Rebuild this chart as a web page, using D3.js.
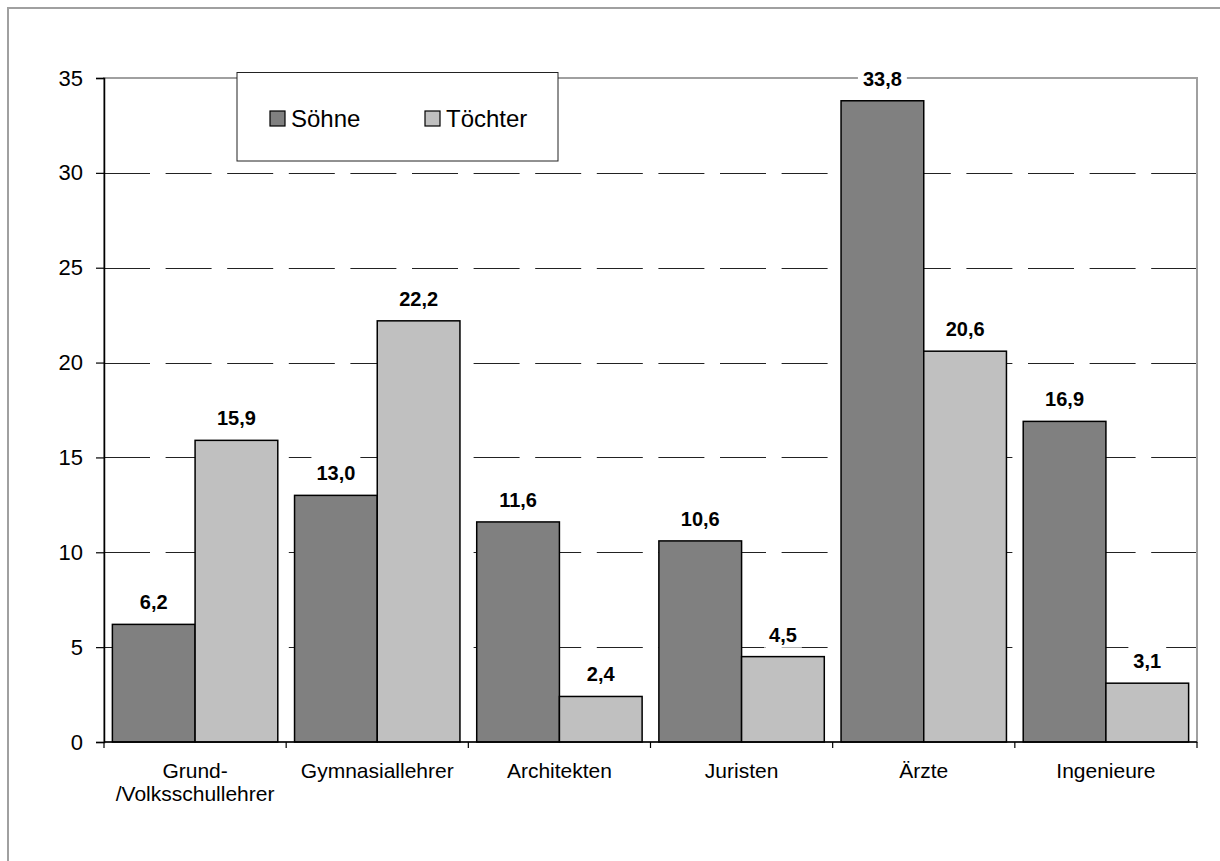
<!DOCTYPE html>
<html>
<head>
<meta charset="utf-8">
<script src="https://cdn.jsdelivr.net/npm/d3@7"></script>
<style>
  html, body { margin: 0; padding: 0; background: #fff; }
  svg { display: block; font-family: "Liberation Sans", Arial, sans-serif; }
</style>
</head>
<body>
<svg id="chart" width="1220" height="861"></svg>
<script>
// Berufe der Kinder nach Geschlecht (Anteile in %)
const categories = ["Grund-\n/Volksschullehrer", "Gymnasiallehrer", "Architekten", "Juristen", "Ärzte", "Ingenieure"];
const seriesNames = ["Söhne", "Töchter"];
const soehne = [6.2, 13.0, 11.6, 10.6, 33.8, 16.9];
const toechter = [15.9, 22.2, 2.4, 4.5, 20.6, 3.1];
const yTicks = [0, 5, 10, 15, 20, 25, 30, 35];
const seriesColors = ["#808080", "#c0c0c0"];

const seriesValues = [soehne, toechter];
const rows = categories.map((c, i) => ({
  cat: c,
  vals: seriesNames.map((s, j) => ({ key: s, value: seriesValues[j][i], idx: j }))
}));

const svg = d3.select("#chart");
const plot = { left: 104, right: 1197, top: 78, bottom: 742 };

// outer chart frame
svg.append("rect")
  .attr("x", 8).attr("y", 8)
  .attr("width", 1240).attr("height", 900)
  .attr("fill", "#fff").attr("stroke", "#a0a0a0").attr("stroke-width", 2);

const y = d3.scaleLinear().domain([0, 35]).range([plot.bottom, plot.top]);
const x0 = d3.scaleBand().domain(categories).range([plot.left, plot.right]).padding(0);
const gap = x0.bandwidth() * 0.046;
const x1 = d3.scaleBand().domain(seriesNames).range([gap, x0.bandwidth() - gap]).padding(0);
const color = d3.scaleOrdinal().domain(seriesNames).range(seriesColors);

// plot area border (top and right visible)
svg.append("rect")
  .attr("x", plot.left).attr("y", plot.top)
  .attr("width", plot.right - plot.left).attr("height", plot.bottom - plot.top)
  .attr("fill", "none").attr("stroke", "#a0a0a0").attr("stroke-width", 2);

// dashed gridlines
svg.append("g")
  .selectAll("line")
  .data(yTicks.filter(t => t > 0 && t < 35))
  .join("line")
  .attr("x1", plot.left).attr("x2", plot.right - 1)
  .attr("y1", d => Math.round(y(d)) + 0.5).attr("y2", d => Math.round(y(d)) + 0.5)
  .attr("stroke", "#222").attr("stroke-width", 1)
  .attr("stroke-dasharray", "46,15.6");

// bars
const groups = svg.append("g")
  .selectAll("g")
  .data(rows)
  .join("g")
  .attr("transform", d => `translate(${x0(d.cat)},0)`);

groups.selectAll("rect")
  .data(d => d.vals)
  .join("rect")
  .attr("x", d => x1(d.key))
  .attr("y", d => y(d.value))
  .attr("width", x1.bandwidth())
  .attr("height", d => y(0) - y(d.value))
  .attr("fill", d => color(d.key))
  .attr("stroke", "#000").attr("stroke-width", 1.5);

// value labels on white boxes
const fmt = v => d3.format(".1f")(v).replace(".", ",");
const labels = groups.selectAll("g.lbl")
  .data(d => d.vals)
  .join("g")
  .attr("class", "lbl")
  .attr("transform", d => `translate(${x1(d.key) + x1.bandwidth() / 2},${y(d.value) - 15})`);

labels.append("text")
  .attr("text-anchor", "middle")
  .attr("font-size", 20).attr("font-weight", "bold")
  .attr("fill", "#000")
  .text(d => fmt(d.value))
  .each(function () {
    const bb = this.getBBox();
    d3.select(this.parentNode).insert("rect", "text")
      .attr("x", bb.x - 5).attr("y", -24)
      .attr("width", bb.width + 10).attr("height", 30)
      .attr("fill", "#fff");
  });

// y axis
const yAxis = svg.append("g")
  .attr("transform", `translate(${plot.left},0)`)
  .call(d3.axisLeft(y).tickValues(yTicks).tickSize(8).tickPadding(13).tickFormat(d3.format("d")));
yAxis.select(".domain").attr("stroke", "#000").attr("stroke-width", 1.5);
yAxis.selectAll(".tick line").attr("stroke", "#000").attr("stroke-width", 1.2);
yAxis.selectAll(".tick text").attr("font-size", 22).attr("fill", "#000")
  .attr("font-family", "'Liberation Sans', Arial, sans-serif");

// x axis with boundary ticks between categories
const xAxisG = svg.append("g");
xAxisG.append("line")
  .attr("x1", plot.left).attr("x2", plot.right)
  .attr("y1", plot.bottom).attr("y2", plot.bottom)
  .attr("stroke", "#000").attr("stroke-width", 1.5);
const boundaries = categories.map(c => x0(c)).concat([x0(categories[categories.length - 1]) + x0.bandwidth()]);
xAxisG.selectAll("line.tick")
  .data(boundaries)
  .join("line")
  .attr("class", "tick")
  .attr("x1", d => d).attr("x2", d => d)
  .attr("y1", plot.bottom).attr("y2", plot.bottom + 6)
  .attr("stroke", "#000").attr("stroke-width", 1.2);

const catText = xAxisG.selectAll("text.cat")
  .data(categories)
  .join("text")
  .attr("class", "cat")
  .attr("text-anchor", "middle")
  .attr("font-size", 21).attr("fill", "#000")
  .attr("transform", d => `translate(${x0(d) + x0.bandwidth() / 2},778)`);
catText.selectAll("tspan")
  .data(d => d.split("\n"))
  .join("tspan")
  .attr("x", 0)
  .attr("dy", (d, i) => i === 0 ? 0 : 23)
  .text(d => d);

// legend
const legend = svg.append("g");
legend.append("rect")
  .attr("x", 237).attr("y", 72.5)
  .attr("width", 321).attr("height", 88.5)
  .attr("fill", "#fff").attr("stroke", "#222").attr("stroke-width", 1);
const legendX = [270, 425];
const li = legend.selectAll("g.item")
  .data(seriesNames)
  .join("g")
  .attr("class", "item")
  .attr("transform", (d, i) => `translate(${legendX[i]},111)`);
li.append("rect")
  .attr("width", 15).attr("height", 15)
  .attr("fill", d => color(d)).attr("stroke", "#000").attr("stroke-width", 1.2);
li.append("text")
  .attr("x", 21).attr("y", 16)
  .attr("font-size", 24).attr("fill", "#000")
  .text(d => d);
</script>
</body>
</html>
